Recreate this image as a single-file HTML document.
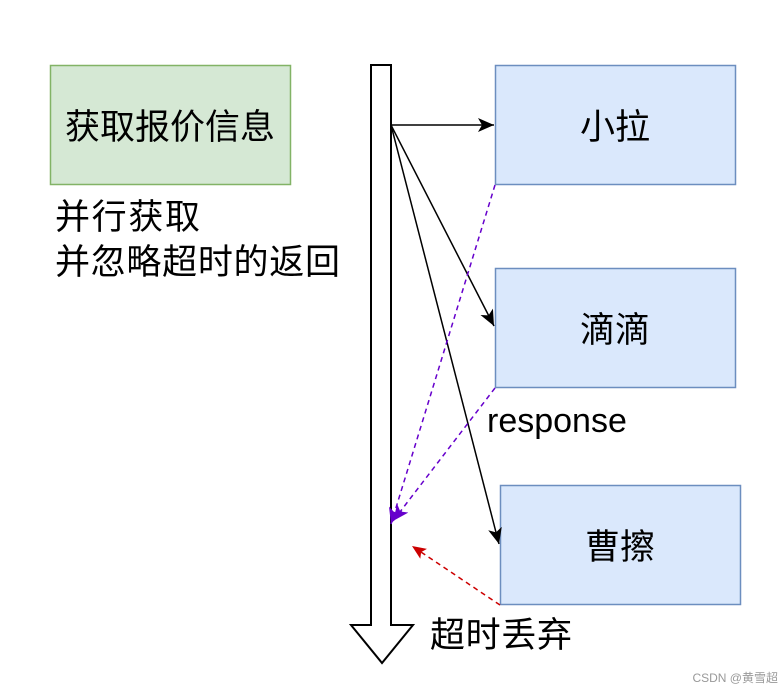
<!DOCTYPE html>
<html><head><meta charset="utf-8"><style>
body{margin:0;background:#fff;width:784px;height:690px;overflow:hidden;font-family:"Liberation Sans","Noto Sans CJK SC",sans-serif;}
</style></head><body>
<svg width="784" height="690" xmlns="http://www.w3.org/2000/svg" style="position:absolute;left:0;top:0">
<defs>
<marker id="a" markerWidth="20" markerHeight="20" refX="16" refY="7" orient="auto" markerUnits="userSpaceOnUse"><path d="M0,0 L16,7 L0,14 L4,7 Z" fill="#000"/></marker>
<marker id="p" markerWidth="20" markerHeight="20" refX="16" refY="7" orient="auto" markerUnits="userSpaceOnUse"><path d="M0,0 L16,7 L0,14 L4,7 Z" fill="#6600cc"/></marker>
<marker id="r" markerWidth="20" markerHeight="20" refX="14" refY="6" orient="auto" markerUnits="userSpaceOnUse"><path d="M0,0 L14,6 L0,12 L3,6 Z" fill="#cc0000"/></marker>
</defs>
<rect x="50.5" y="65.5" width="240" height="119" fill="#d5e8d4" stroke="#82b366" stroke-width="1.5"/>
<rect x="495.5" y="65.5" width="240" height="119" fill="#dae8fc" stroke="#6c8ebf" stroke-width="1.5"/>
<rect x="495.5" y="268.5" width="240" height="119" fill="#dae8fc" stroke="#6c8ebf" stroke-width="1.5"/>
<rect x="500.5" y="485.5" width="240" height="119" fill="#dae8fc" stroke="#6c8ebf" stroke-width="1.5"/>
<path d="M371,65 L391,65 L391,625 L413,625 L382,663 L351,625 L371,625 Z" fill="#fff" stroke="#000" stroke-width="2"/>
<line x1="391" y1="125" x2="494" y2="125" stroke="#000" stroke-width="1.5" marker-end="url(#a)"/>
<line x1="391" y1="125" x2="494" y2="326" stroke="#000" stroke-width="1.5" marker-end="url(#a)"/>
<line x1="391" y1="125" x2="499" y2="544" stroke="#000" stroke-width="1.5" marker-end="url(#a)"/>
<line x1="495" y1="185" x2="391" y2="524" stroke="#6600cc" stroke-width="1.5" stroke-dasharray="5,4" marker-end="url(#p)"/>
<line x1="495" y1="388" x2="393" y2="521" stroke="#6600cc" stroke-width="1.5" stroke-dasharray="5,4" marker-end="url(#p)"/>
<line x1="500" y1="605" x2="412" y2="546" stroke="#cc0000" stroke-width="1.5" stroke-dasharray="5,4" marker-end="url(#r)"/>
<g font-family="Liberation Sans, Noto Sans CJK SC, sans-serif" fill="#000">
<text x="170" y="139" font-size="35" text-anchor="middle">获取报价信息</text>
<text x="615" y="139" font-size="35" text-anchor="middle">小拉</text>
<text x="615" y="342" font-size="35" text-anchor="middle">滴滴</text>
<text x="620" y="559" font-size="35" text-anchor="middle">曹擦</text>
<text x="55" y="229" font-size="35" textLength="145">并行获取</text>
<text x="55" y="274" font-size="35" textLength="285">并忽略超时的返回</text>
<text x="487" y="432" font-size="34">response</text>
<text x="430" y="647" font-size="35" textLength="142">超时丢弃</text>
<text x="778" y="682" font-size="12" fill="#999" text-anchor="end">CSDN @黄雪超</text>
</g>
</svg>
</body></html>
